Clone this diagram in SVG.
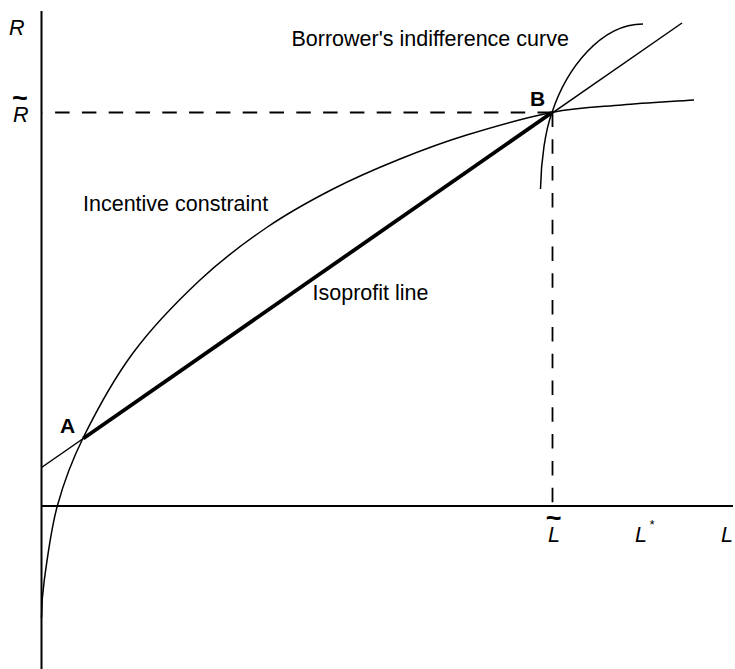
<svg xmlns="http://www.w3.org/2000/svg" width="735" height="669" viewBox="0 0 735 669">
<style>
.lbl{font-family:"Liberation Sans",Arial,sans-serif;font-size:21.5px;fill:#000}
.it{font-style:italic}
.bd{font-weight:bold;font-size:21px}
.tl{font-family:"Liberation Sans",Arial,sans-serif;font-size:27px;font-style:normal;font-weight:bold}
.ln{fill:none;stroke:#000;stroke-width:1.5}
.ax{fill:none;stroke:#000;stroke-width:2}
.ds{fill:none;stroke:#000;stroke-width:1.8;stroke-dasharray:14.5 12.3}
</style>
<rect width="735" height="669" fill="#fff"/>
<g id="connectors">
<line class="ax" x1="41.5" y1="11" x2="41.5" y2="669"/>
<line class="ax" x1="41.5" y1="506" x2="733" y2="506"/>
<path class="ds" d="M552,112.5 L42.5,112.5"/>
<path class="ds" d="M552.5,112.5 L552.5,505"/>
<path id="incentive-curve" class="ln" d="M41.5,618 C41.5,605.3 41.67,598.67 44.3,580 C46.93,561.33 50.8,529.75 57.3,506 C63.8,482.25 70.68,463 83.3,437.5 C95.92,412 113.55,379.25 133,353 C152.45,326.75 177.72,300.92 200,280 C222.28,259.08 244.53,242.67 266.7,227.5 C288.87,212.33 310.78,200.42 333,189 C355.22,177.58 377.72,168 400,159 C422.28,150 441.42,142.75 466.7,135 C491.98,127.25 525.82,117.5 551.7,112.5 C577.58,107.5 598.28,107.08 622,105 C645.72,102.92 670,101.67 694,100"/>
<path id="indifference-curve" class="ln" d="M540.5,189 C541,160 545.5,130 552,112.5 C566,70 600,24 643,24"/>
<line class="ln" x1="41.5" y1="467.5" x2="682" y2="23"/>
<line fill="none" stroke="#000" stroke-width="3.8" x1="83.3" y1="438.5" x2="552" y2="112.5"/>
</g>
<g id="axis-labels">
<text class="lbl it" x="9" y="35">R</text>
<text class="lbl it" x="13" y="122">R<tspan class="tl" x="12" y="106.5">~</tspan></text>
<text class="lbl it" x="548" y="542">L<tspan class="tl" x="545.8" y="526.5">~</tspan></text>
<text class="lbl it" x="635" y="542">L<tspan font-size="13" dx="2" dy="-13">*</tspan></text>
<text class="lbl it" x="721" y="542">L</text>
</g>
<g id="point-A"><text class="lbl bd" x="60" y="432.5">A</text></g>
<g id="point-B"><text class="lbl bd" x="530" y="106">B</text></g>
<g id="label-incentive"><text class="lbl" x="83" y="211">Incentive constraint</text></g>
<g id="label-borrower"><text class="lbl" x="291.5" y="46">Borrower's indifference curve</text></g>
<g id="label-isoprofit"><text class="lbl" x="312.5" y="299.5">Isoprofit line</text></g>
</svg>
